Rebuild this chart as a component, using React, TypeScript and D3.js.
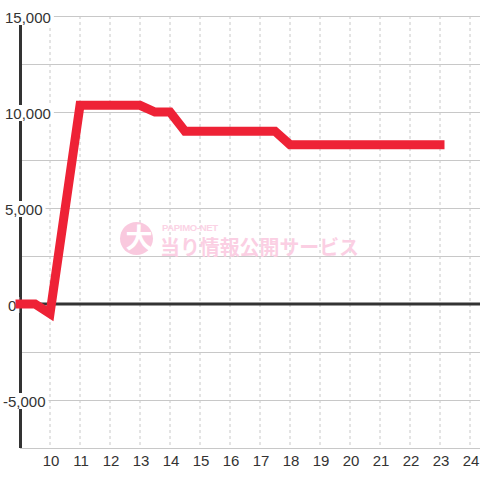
import React from "react";
import * as d3 from "d3";

const hours = [9, 9.5, 10, 11, 12, 13, 13.5, 14, 14.5, 15, 16, 17, 17.5, 18, 19, 20, 21, 22, 23];
const values = [0, 0, -500, 10350, 10350, 10350, 10000, 10000, 9000, 9000, 9000, 9000, 9000, 8300, 8300, 8300, 8300, 8300, 8300];
const xTicks = [10, 11, 12, 13, 14, 15, 16, 17, 18, 19, 20, 21, 22, 23, 24];
const yTicks = [15000, 10000, 5000, 0, -5000];
const yMinor = [12500, 7500, 2500, -2500, -7500];
const brand = "PAPIMO-NET";
const logoChar = "大";
const slogan = "当り情報公開サービス";

const W = 480;
const H = 480;
const FONT = "'Liberation Sans', Arial, sans-serif";

export default function App() {
  const x = d3.scaleLinear().domain([9, 9 + 460 / 30]).range([20, 480]);
  const y = d3.scaleLinear().domain([-7500, 15000]).range([448, 16]);
  const line = d3
    .line<number>()
    .x((_, i) => x(hours[i]))
    .y((d) => y(d));
  const fmt = (v: number) => d3.format(",")(v).replace("\u2212", "-");
  const charW = 8.34; // approx digit width at 15px

  return (
    <svg
      width={W}
      height={H}
      style={{ position: "absolute", left: 0, top: 0, background: "#ffffff" }}
    >
      <rect x={0} y={0} width={W} height={H} fill="#ffffff" />
      {/* vertical dashed grid */}
      {xTicks.map((t) => (
        <line
          key={"vx" + t}
          x1={x(t)}
          x2={x(t)}
          y1={y(15000)}
          y2={y(-7500)}
          stroke="#c8c8c8"
          strokeWidth={1}
          strokeDasharray="3,3"
        />
      ))}
      {/* horizontal grid */}
      {[...yTicks, ...yMinor].map((t) => (
        <line
          key={"hy" + t}
          x1={20}
          x2={480}
          y1={Math.round(y(t)) + 0.5}
          y2={Math.round(y(t)) + 0.5}
          stroke="#c8c8c8"
          strokeWidth={1}
        />
      ))}
      {/* watermark */}
      <g>
        <circle cx={136.5} cy={238.5} r={16.5} fill="#f9c9de" />
        <text
          x={139}
          y={248}
          textAnchor="middle"
          fontFamily="'Noto Sans CJK JP', sans-serif"
          fontWeight="bold"
          fontSize={27}
          fill="#ffffff"
        >
          {logoChar}
        </text>
        <text
          x={162}
          y={230.5}
          fontFamily={FONT}
          fontWeight="bold"
          fontSize={9.5}
          fill="#fbd3e5"
          textLength={56}
          lengthAdjust="spacing"
        >
          {brand}
        </text>
        <text
          x={160}
          y={254.5}
          fontFamily="'Noto Sans CJK JP', sans-serif"
          fontWeight="bold"
          fontSize={20}
          fill="#fbcfe3"
          textLength={199}
          lengthAdjust="spacingAndGlyphs"
        >
          {slogan}
        </text>
      </g>
      {/* y axis */}
      <line x1={20.5} x2={20.5} y1={y(15000)} y2={y(-7500)} stroke="#333333" strokeWidth={3} />
      {/* zero line */}
      <line x1={20} x2={480} y1={y(0)} y2={y(0)} stroke="#333333" strokeWidth={3} />
      {/* y labels with background */}
      {yTicks.map((t) => {
        const s = fmt(t);
        const w = s.length * charW - (s.includes(",") ? charW - 4.17 : 0) - (s.startsWith("-") ? charW - 5 : 0);
        const x0 = t === 0 ? 8 : t < 0 ? 3 : 5;
        return (
          <g key={"yl" + t}>
            <rect x={x0 - 2} y={y(t) - 7} width={w + 5} height={16} fill="#ffffff" />
            <text
              x={x0}
              y={y(t) + 6.5}
              fontFamily={FONT}
              fontSize={15}
              fill="#333333"
            >
              {s}
            </text>
          </g>
        );
      })}
      {/* data line */}
      <path
        d={line(values) || ""}
        fill="none"
        stroke="#ee2236"
        strokeWidth={9}
        strokeLinejoin="miter"
        strokeLinecap="square"
      />
      {/* x labels */}
      {xTicks.map((t) => (
        <text
          key={"xl" + t}
          x={x(t) + 1}
          y={466}
          textAnchor="middle"
          fontFamily={FONT}
          fontSize={15}
          fill="#333333"
        >
          {t}
        </text>
      ))}
    </svg>
  );
}
